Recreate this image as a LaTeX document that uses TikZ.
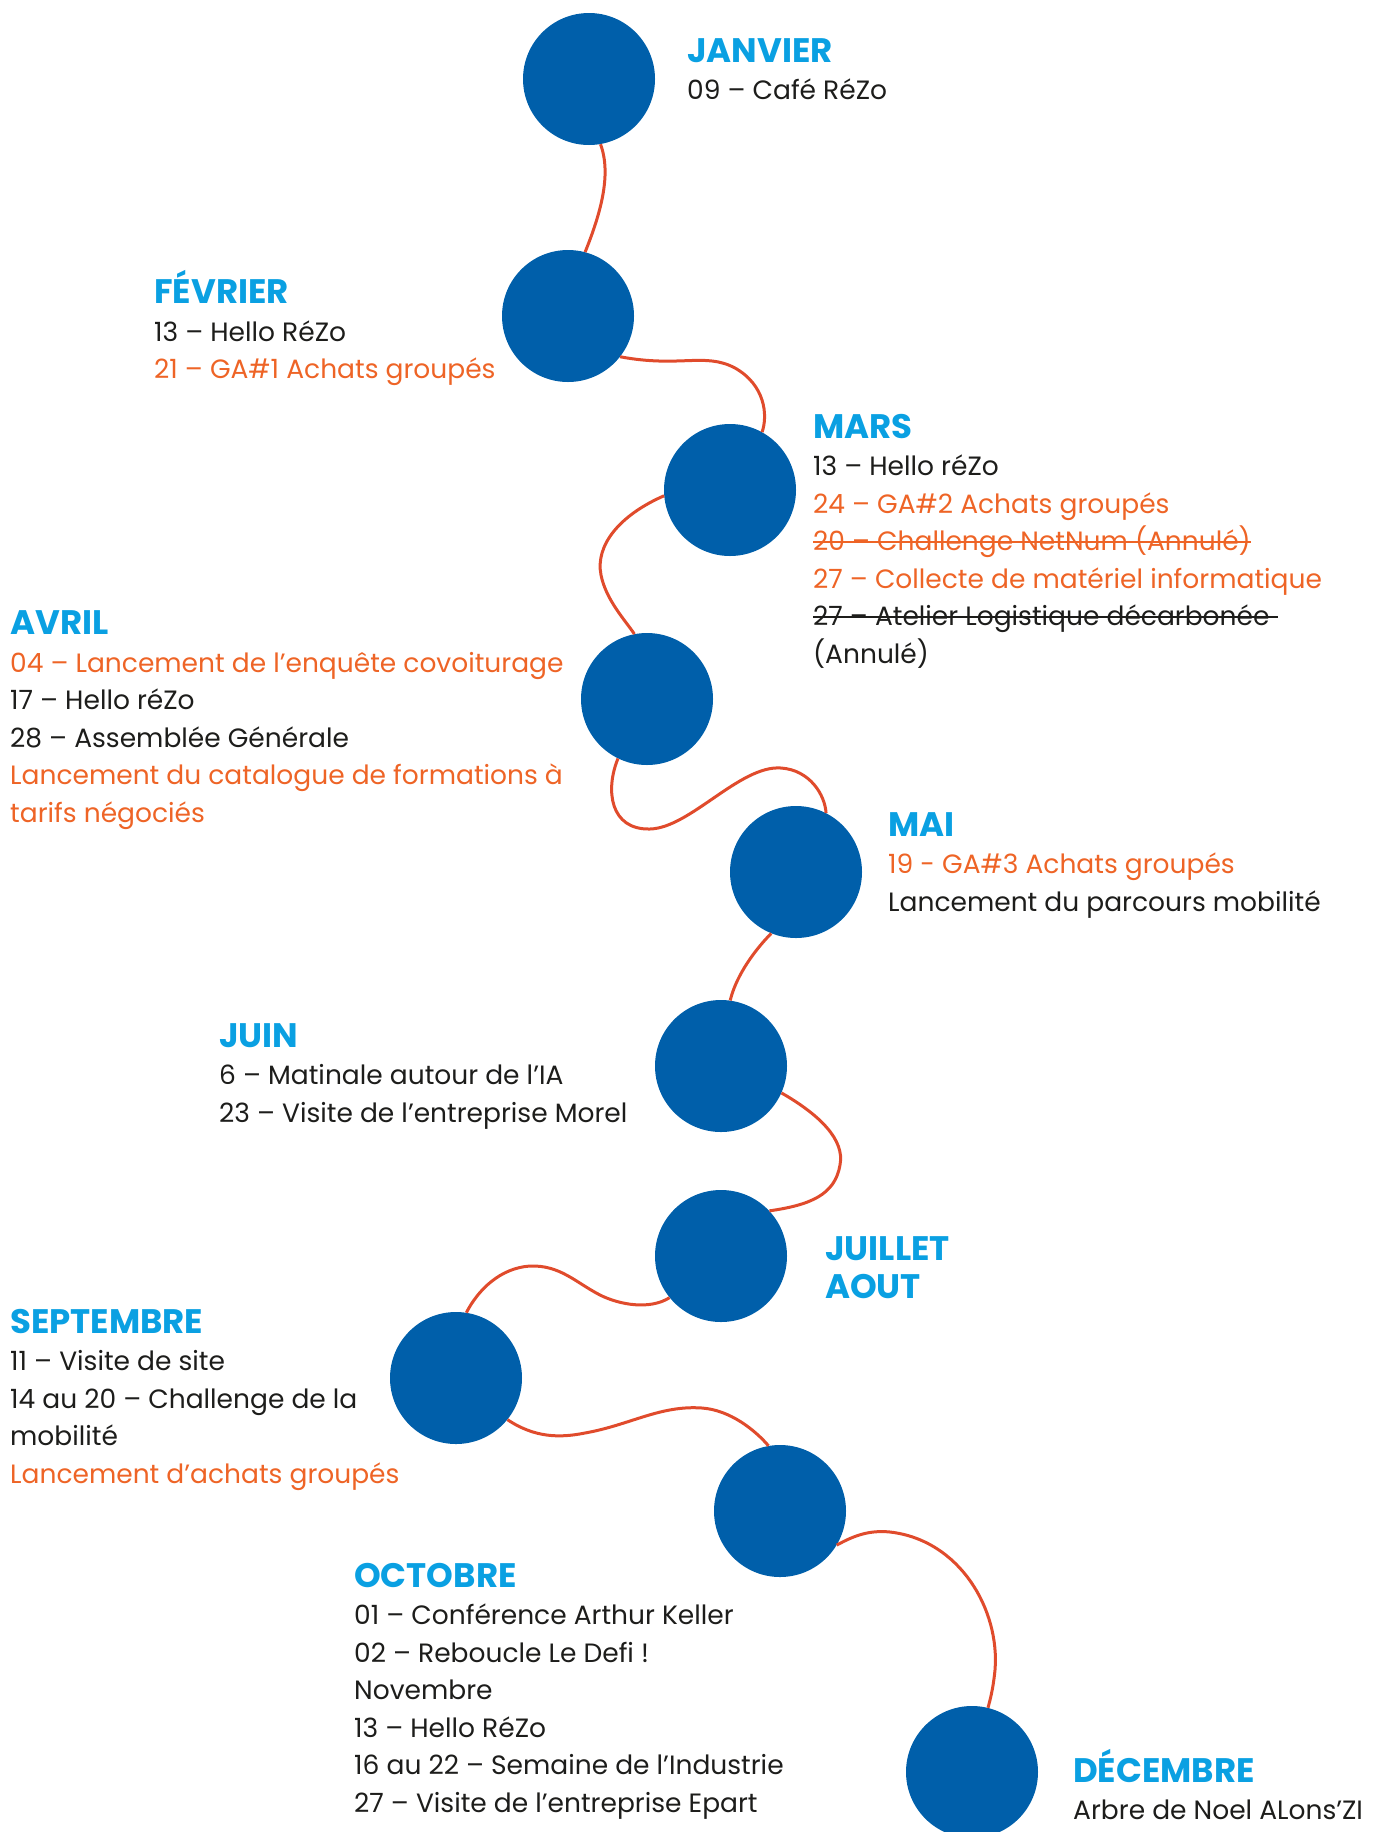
\documentclass[tikz,border=0pt]{standalone}
\usepackage{fontspec}
\setmainfont{Poppins}
\definecolor{cblue}{HTML}{005FAA}
\definecolor{chead}{HTML}{0AA0E2}
\definecolor{corange}{HTML}{EE6426}
\definecolor{cline}{HTML}{E04B2C}
\definecolor{ctext}{HTML}{1D1D1B}
\newcommand{\hd}[1]{{\fontsize{34}{37.5}\selectfont\bfseries\color{chead}#1}}
\newcommand{\og}[1]{\textcolor{corange}{#1}}
\newlength{\strklen}
\newcommand{\strk}[2][0pt]{\settowidth{\strklen}{#2}\addtolength{\strklen}{#1}\rlap{#2}\raisebox{0.3em}{\rule{\strklen}{1.5pt}}}
\begin{document}
\begin{tikzpicture}[x=1pt,y=1pt,
  dot/.style={circle,fill=cblue,minimum size=132pt,inner sep=0pt},
  link/.style={draw=cline,line width=3pt},
  txt/.style={anchor=base west,align=left,inner sep=0pt,text=ctext,
    font=\fontsize{26.5}{37.5}\selectfont}]
\useasboundingbox (0,0) rectangle (1379,-1832);
\clip (0,0) rectangle (1379,-1832);
% circles
\node[dot] (jan) at (589,-79) {};
\node[dot] (fev) at (568,-316) {};
\node[dot] (mar) at (730,-490) {};
\node[dot] (avr) at (647,-699) {};
\node[dot] (mai) at (796,-872) {};
\node[dot] (jun) at (721,-1066) {};
\node[dot] (jul) at (721,-1256) {};
\node[dot] (sep) at (456,-1378) {};
\node[dot] (oct) at (780,-1511) {};
\node[dot] (dec) at (972,-1772) {};
% connectors
\draw[link] (jan.-80) .. controls (612,-175) and (600,-215) .. (fev.75);
\draw[link] (fev.-38) .. controls (680,-368) and (705,-352) .. (735,-368)
  .. controls (765,-385) and (768,-415) .. (mar.61);
\draw[link] (mar.185) .. controls (620,-515) and (595,-545) .. (601,-575)
  .. controls (606,-600) and (625,-620) .. (avr.101);
\draw[link] (avr.244) .. controls (605,-790) and (610,-830) .. (650,-829)
  .. controls (690,-828) and (740,-765) .. (781,-768)
  .. controls (810,-770) and (825,-795) .. (mai.63);
\draw[link] (mai.248) .. controls (750,-955) and (735,-980) .. (jun.82);
\draw[link] (jun.-24) .. controls (820,-1115) and (845,-1140) .. (840,-1165)
  .. controls (835,-1195) and (810,-1205) .. (jul.43);
\draw[link] (jul.219) .. controls (650,-1310) and (620,-1305) .. (600,-1295)
  .. controls (575,-1282) and (560,-1265) .. (530,-1266)
  .. controls (500,-1268) and (478,-1290) .. (sep.81);
\draw[link] (sep.-39) .. controls (535,-1438) and (560,-1438) .. (585,-1433)
  .. controls (630,-1425) and (660,-1405) .. (702,-1408)
  .. controls (730,-1410) and (755,-1430) .. (oct.100);
\draw[link] (oct.-31) .. controls (855,-1535) and (870,-1530) .. (890,-1532)
  .. controls (960,-1540) and (1000,-1610) .. (995,-1670)
  .. controls (993,-1690) and (990,-1700) .. (dec.76);
% texts (anchored at the baseline of their last line)
\node[txt] (tjan) at (687,-99.5) {\hd{JANVIER}\\09 – Café RéZo};
\node[txt] (tfev) at (154,-378.5) {\hd{FÉVRIER}\\13 – Hello RéZo\\\og{21 – GA\#1 Achats groupés}};
\node[txt] (tmar) at (813,-663) {\hd{MARS}\\13 – Hello réZo\\\og{24 – GA\#2 Achats groupés}\\{\color{corange}\strk{20 – Challenge NetNum (Annulé)}}\\\og{27 – Collecte de matériel informatique}\\\strk[8pt]{27 – Atelier Logistique décarbonée}\\(Annulé)};
\node[txt] (tavr) at (10,-822) {\hd{AVRIL}\\\og{04 – Lancement de l’enquête covoiturage}\\17 – Hello réZo\\28 – Assemblée Générale\\\og{Lancement du catalogue de formations à}\\\og{tarifs négociés}};
\node[txt] (tmai) at (888,-911) {\hd{MAI}\\\og{19 - GA\#3 Achats groupés}\\Lancement du parcours mobilité};
\node[txt] (tjun) at (219,-1122) {\hd{JUIN}\\6 – Matinale autour de l’IA\\23 – Visite de l’entreprise Morel};
\node[txt] (tjul) at (825,-1298) {\hd{JUILLET}\\\hd{AOUT}};
\node[txt] (tsep) at (10,-1483) {\hd{SEPTEMBRE}\\11 – Visite de site\\14 au 20 – Challenge de la\\mobilité\\\og{Lancement d’achats groupés}};
\node[txt] (toct) at (354,-1812) {\hd{OCTOBRE}\\01 – Conférence Arthur Keller\\02 – Reboucle Le Defi !\\Novembre\\13 – Hello RéZo\\16 au 22 – Semaine de l’Industrie\\27 – Visite de l’entreprise Epart};
\node[txt] (tdec) at (1073,-1819.5) {\hd{DÉCEMBRE}\\Arbre de Noel ALons’ZI};
\end{tikzpicture}
\end{document}
